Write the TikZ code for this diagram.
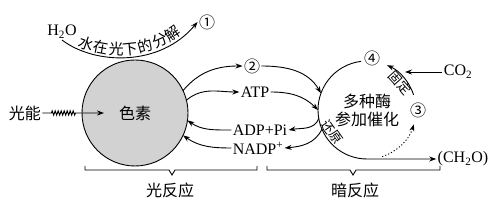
\documentclass[tikz,border=0pt]{standalone}
\usepackage{fontspec}
\setmainfont{Liberation Serif}
\newfontfamily\cjk{Noto Sans CJK SC}
\usetikzlibrary{arrows.meta,decorations.pathmorphing}
\begin{document}
\begin{tikzpicture}[x=1pt,y=1pt,line width=.9pt,
  arr/.style={-{Stealth[length=7pt,width=5pt]}},
  lbl/.style={inner sep=1pt,font=\fontsize{16}{18}\selectfont},
  zh/.style={inner sep=1pt,font=\cjk\fontsize{16}{18}\selectfont},
  zhs/.style={inner sep=0pt,font=\cjk\fontsize{13}{14}\selectfont},
  ch/.style={sloped,above,inner sep=1pt,font=\cjk\fontsize{15}{15}\selectfont}]
\path[use as bounding box] (0,0) rectangle (500,205);
\node[circle,draw,fill=gray!35,minimum size=106pt,inner sep=0pt,outer sep=0pt,zh] (pg) at (135,92) {色素};
\node[zh] (gn) at (25,92) {光能};
\coordinate (lt) at (104,92);
\draw[arr] (gn.east) -- ++(9,0) decorate[decoration={zigzag,segment length=3pt,amplitude=2.2pt}] {-- ++(24,0)} -- (lt);
\node[lbl] (h2o) at (62,173) {H\textsubscript{2}O};
\node[zh] (n1) at (207,183) {①};
\draw[arr] (h2o.south) .. controls (95,140) and (160,138) .. (n1.west)
  node[ch,pos=.19] {水} node[ch,pos=.305] {在} node[ch,pos=.42] {光}
  node[ch,pos=.52] {下} node[ch,pos=.63] {的} node[ch,pos=.735] {分} node[ch,pos=.84] {解};
\node[zh] (n2) at (252,139) {②};
\node[lbl] (atp) at (255,113) {ATP};
\node[lbl] (adp) at (260,75) {ADP+Pi};
\node[lbl] (nadp) at (258,57) {NADP\textsuperscript{+}};
\node[circle,minimum size=98pt,inner sep=0pt,outer sep=0pt,align=center,zh] (dc) at (367,95) {多种酶\\参加催化};
\node[zh] (n4) at (372,147) {④};
\node[zh] (n3) at (418,95) {③};
\node[lbl] (co2) at (458,133) {CO\textsubscript{2}};
\node[lbl] (cho) at (463,46) {(CH\textsubscript{2}O)};
\coordinate (fx) at (405,133);
\draw[arr] (pg.25) to[out=50,in=180] (n2.west);
\draw[arr] (n2.east) to[out=0,in=120] (dc.160);
\draw[arr] (pg.14) to[out=40,in=180] (atp.west);
\draw[arr] (atp.east) to[out=0,in=135] (dc.180);
\draw[arr] (dc.190) to[out=250,in=10] (adp.east);
\draw[arr] (adp.west) to[out=180,in=-35] (pg.-8);
\draw[arr] (dc.203) to[out=245,in=5] (nadp.east);
\draw[arr] (nadp.west) to[out=180,in=-35] (pg.-25);
\draw[arr] (dc.97) arc[start angle=97,end angle=270,radius=49pt] -- (cho.west);
\draw[arr] (dc.18) arc[start angle=18,end angle=66,radius=49pt];
\draw[arr,dash pattern=on 1.2pt off 2pt] (dc.-72) arc[start angle=-72,end angle=-17,radius=49pt];
\draw[arr] (co2.west) -- (fx);
\node[zhs,rotate=-48] (gd) at (400,122) {固定};
\node[zhs,rotate=-55] (hy) at (332,73) {还原};
\draw (85,39) -- (85,35) -- (169,35) -- (172,30) -- (175,35) -- (257,35) -- (257,39);
\draw (267,39) -- (267,35) -- (350,35) -- (353,30) -- (356,35) -- (440,35) -- (440,39);
\node[zh] (gf) at (170,15) {光反应};
\node[zh] (af) at (355,15) {暗反应};
\end{tikzpicture}
\end{document}
